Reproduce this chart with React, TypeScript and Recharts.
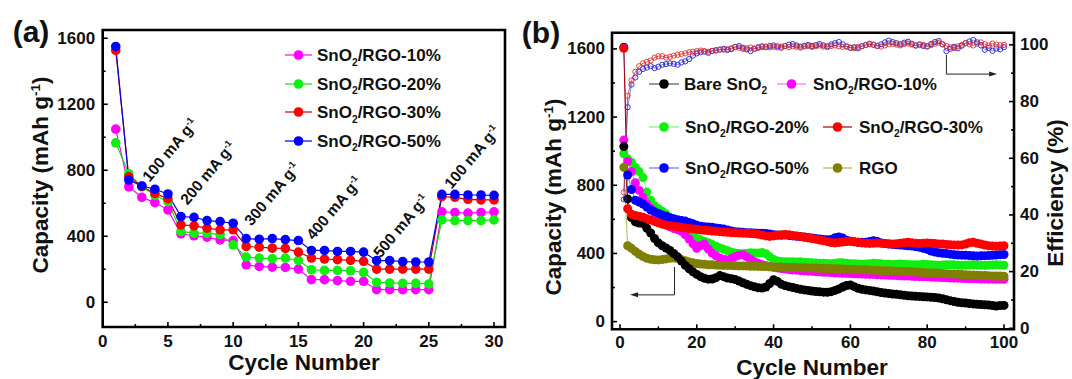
import React from 'react';
import { LineChart, Line, XAxis, YAxis, ReferenceArea, ReferenceLine } from 'recharts';

const FONT = '"Liberation Sans", Arial, Helvetica, sans-serif';

// ---------- panel (a): rate performance ----------
const rateCycles = [1, 2, 3, 4, 5, 6, 7, 8, 9, 10, 11, 12, 13, 14, 15, 16, 17, 18, 19, 20, 21, 22, 23, 24, 25, 26, 27, 28, 29, 30];
const rate10 = [1049, 700, 636, 604, 560, 415, 403, 395, 378, 374, 227, 217, 213, 211, 201, 137, 137, 131, 127, 127, 76, 76, 76, 76, 76, 548, 544, 540, 544, 548];
const rate20 = [966, 779, 700, 648, 610, 429, 419, 419, 410, 348, 274, 268, 264, 268, 254, 197, 193, 193, 191, 181, 121, 117, 115, 115, 111, 499, 495, 495, 495, 499];
const rate30 = [1526, 760, 702, 660, 628, 469, 463, 449, 439, 439, 338, 334, 328, 326, 304, 268, 262, 258, 254, 248, 201, 201, 201, 201, 201, 640, 636, 624, 620, 620];
const rate50 = [1550, 741, 705, 685, 656, 519, 515, 495, 489, 479, 386, 382, 386, 380, 374, 314, 314, 308, 308, 304, 252, 252, 246, 244, 244, 654, 654, 650, 650, 648];
const rateNames = ['SnO2/RGO-10%', 'SnO2/RGO-20%', 'SnO2/RGO-30%', 'SnO2/RGO-50%'];
const rateCurrents = ['100', '200', '300', '400', '500', '100'];
const rateXTicks = [0, 2.5, 5, 7.5, 10, 12.5, 15, 17.5, 20, 22.5, 25, 27.5, 30];
const capTicksA = [0, 200, 400, 600, 800, 1000, 1200, 1400, 1600];

// ---------- panel (b): cycling ----------
const cycles = Array.from({ length: 100 }, (_, i) => i + 1);
const bare = [
  1027, 720, 610, 585, 578, 575, 548, 520, 488, 462, 445, 432, 418, 400, 380, 355, 330, 310, 292, 277,
  264, 254, 249, 250, 258, 270, 264, 256, 252, 247, 238, 228, 219, 211, 204, 199, 197, 203, 224, 246,
  236, 220, 211, 205, 200, 195, 190, 186, 183, 180, 177, 175, 173, 172, 176, 183, 192, 203, 212, 215,
  205, 196, 190, 186, 183, 180, 175, 171, 168, 165, 162, 160, 157, 155, 152, 150, 149, 148, 146, 145,
  143, 141, 138, 134, 128, 123, 118, 114, 111, 109, 106, 104, 102, 100, 99, 97, 94, 92, 94, 95,
];
const rgo10 = [
  1065, 940, 880, 815, 770, 730, 690, 665, 640, 620, 600, 575, 556, 546, 540, 530, 510, 485, 456, 430,
  446, 455, 426, 402, 386, 373, 366, 362, 370, 381, 390, 393, 380, 366, 352, 342, 334, 328, 322, 318,
  315, 311, 309, 306, 303, 302, 299, 298, 296, 295, 293, 292, 290, 289, 288, 286, 285, 284, 283, 282,
  281, 280, 279, 278, 277, 277, 275, 274, 273, 272, 271, 270, 269, 268, 268, 266, 265, 264, 264, 263,
  261, 260, 260, 259, 258, 256, 255, 255, 254, 253, 252, 252, 251, 250, 250, 249, 249, 248, 248, 248,
];
const rgo20 = [
  985, 955, 935, 905, 880, 845, 760, 712, 680, 662, 648, 632, 610, 585, 560, 540, 525, 510, 498, 488,
  480, 472, 463, 452, 442, 432, 424, 416, 408, 402, 400, 398, 401, 404, 403, 402, 405, 398, 380, 365,
  356, 353, 352, 351, 352, 350, 352, 349, 347, 346, 344, 343, 342, 341, 340, 343, 346, 345, 342, 340,
  339, 338, 337, 338, 340, 342, 341, 339, 337, 336, 335, 336, 338, 337, 335, 334, 333, 334, 336, 335,
  333, 332, 331, 332, 333, 334, 333, 331, 330, 331, 332, 333, 332, 331, 330, 331, 332, 333, 332, 331,
];
const rgo30 = [
  1604, 662, 630, 622, 618, 612, 604, 596, 588, 580, 572, 566, 562, 559, 556, 553, 550, 547, 544, 541,
  538, 536, 534, 532, 530, 528, 526, 524, 522, 521, 520, 519, 518, 517, 515, 512, 508, 503, 500, 503,
  507, 510, 511, 509, 506, 503, 499, 495, 491, 488, 484, 479, 474, 469, 464, 462, 464, 467, 470, 471,
  468, 465, 462, 460, 459, 460, 461, 460, 458, 456, 455, 457, 460, 463, 465, 463, 460, 458, 460, 462,
  460, 458, 456, 455, 453, 451, 450, 449, 450, 455, 463, 465, 460, 455, 449, 445, 443, 442, 443, 445,
];
const rgo50 = [
  1610, 860, 775, 712, 702, 690, 672, 655, 645, 635, 625, 618, 610, 604, 598, 594, 590, 582, 574, 565,
  560, 557, 555, 553, 550, 547, 543, 538, 532, 528, 526, 524, 522, 521, 520, 519, 518, 517, 514, 510,
  508, 507, 508, 506, 503, 501, 499, 497, 494, 491, 488, 485, 482, 480, 482, 492, 497, 490, 478, 472,
  468, 466, 465, 466, 470, 475, 470, 462, 458, 455, 453, 451, 449, 447, 445, 443, 440, 436, 430, 424,
  414, 408, 404, 401, 399, 396, 393, 391, 390, 389, 388, 386, 385, 386, 387, 388, 389, 391, 393, 394,
];
const rgoOnly = [
  905, 445, 430, 412, 395, 382, 372, 366, 363, 362, 364, 368, 372, 373, 370, 364, 357, 350, 345, 341,
  338, 336, 334, 333, 332, 331, 330, 330, 329, 328, 327, 327, 326, 325, 325, 324, 323, 323, 322, 321,
  320, 320, 319, 318, 318, 317, 316, 316, 315, 314, 314, 313, 312, 312, 311, 310, 310, 309, 308, 307,
  306, 305, 305, 304, 303, 302, 301, 300, 299, 298, 297, 296, 295, 294, 293, 292, 291, 290, 288, 287,
  286, 285, 284, 283, 281, 280, 279, 278, 276, 275, 274, 273, 272, 271, 270, 269, 268, 267, 267, 266,
];
const eff30 = [
  48, 82, 87.5, 90.5, 92.5, 93.5, 94, 94.5, 95.5, 96, 96, 95.5, 95.8, 96.2, 96.5, 96.8, 97, 97.4, 97.6, 97.8,
  98, 97.8, 97.6, 97.9, 98.2, 98.4, 98.3, 98.5, 98.8, 99.2, 99, 98.6, 98.8, 99.1, 98.7, 98.9, 99.2, 99.4, 99.1, 99.3,
  99.1, 99.4, 99.6, 99.2, 99.5, 99.3, 99, 99.4, 99.6, 99.3, 99.5, 99.8, 99.4, 99.2, 99.6, 99.8, 99.5, 99.3, 99.5, 99.1,
  98.8, 99.3, 99.6, 99.9, 100.2, 100, 99.7, 99.4, 99.8, 100.2, 100.4, 100.1, 99.8, 100.3, 100.5, 100.1, 99.7, 99.9, 100, 99.6,
  99.9, 100.4, 100.8, 100.2, 99.6, 99.2, 98.9, 99.5, 100, 100.6, 100.2, 99.8, 100.4, 100.9, 100.3, 99.8, 100.5, 100.1, 99.9, 100,
];
const eff50 = [
  45.5, 78, 86, 88.5, 90.5, 91.5, 92, 92.5, 91.8, 92.3, 93, 93.2, 93.5, 93.3, 93, 93.8, 94.2, 95, 96.2, 97,
  97.4, 97.6, 97.2, 97.8, 98, 98.3, 98.6, 98.2, 98.5, 99.3, 99.6, 99, 98.4, 97.8, 98.6, 99.2, 99.5, 99.2, 99.6, 99.8,
  99.5, 99, 99.6, 100.1, 100.3, 99.8, 99.4, 99.7, 100, 99.6, 99.9, 100.3, 99.8, 99.5, 100.2, 100.6, 101, 100.2, 99.4, 98.9,
  99.2, 98.8, 99.5, 100, 100.4, 100.1, 99.6, 100.2, 100.9, 101.5, 101, 100.6, 100.2, 100.8, 101.1, 100.4, 99.8, 100.2, 99.6, 99.4,
  100.3, 101, 101.4, 100.2, 97.8, 98.6, 99.3, 98.8, 99.7, 100.6, 101.2, 101.7, 100.9, 99.8, 98.3, 98.9, 97.9, 98.7, 98.4, 99.2,
];
const cycNames = ['Bare SnO2', 'SnO2/RGO-10%', 'SnO2/RGO-20%', 'SnO2/RGO-30%', 'SnO2/RGO-50%', 'RGO'];
const cycXTicks = [0, 10, 20, 30, 40, 50, 60, 70, 80, 90, 100];
const capTicksB = [0, 200, 400, 600, 800, 1000, 1200, 1400, 1600];
const effTicks = [0, 10, 20, 30, 40, 50, 60, 70, 80, 90, 100];

const rateData = rateCycles.map((c, i) => ({ c, r10: rate10[i], r20: rate20[i], r30: rate30[i], r50: rate50[i] }));
const cycData = cycles.map((c, i) => ({
  c, bare: bare[i], r10: rgo10[i], r20: rgo20[i], r30: rgo30[i], r50: rgo50[i], rgo: rgoOnly[i], e30: eff30[i], e50: eff50[i],
}));

const AX = { xMin: 0, xMax: 30.84, yMin: -150, yMax: 1650 };
const BX = { xMin: -2.08, xMax: 102.6, yMin: -45, yMax: 1695, eMin: -0.35, eMax: 104.3 };

// inward ticks, labels outside
const makeTick = (side: 'left' | 'right' | 'bottom', gap: number, major: number) => (props: any) => {
  const { x, y, payload } = props;
  const v = Number(payload.value);
  const isMajor = Math.abs(v / major - Math.round(v / major)) < 1e-6;
  const len = isMajor ? 5 : 3;
  const txt = { fontFamily: FONT, fontWeight: 700, fontSize: 17, fill: '#111' };
  if (side === 'bottom') {
    const ay = y - gap;
    return (
      <g>
        <line x1={x} x2={x} y1={ay} y2={ay - len} stroke="#000" strokeWidth={1.6} />
        {isMajor && <text x={x} y={y} textAnchor="middle" dominantBaseline="central" style={txt}>{v}</text>}
      </g>
    );
  }
  if (side === 'left') {
    const ax = x + gap;
    return (
      <g>
        <line x1={ax} x2={ax + len} y1={y} y2={y} stroke="#000" strokeWidth={1.6} />
        {isMajor && <text x={x} y={y} textAnchor="end" dominantBaseline="central" style={txt}>{v}</text>}
      </g>
    );
  }
  const ax = x - gap;
  return (
    <g>
      <line x1={ax} x2={ax - len} y1={y} y2={y} stroke="#000" strokeWidth={1.6} />
      {isMajor && <text x={x} y={y} textAnchor="start" dominantBaseline="central" style={txt}>{v}</text>}
    </g>
  );
};

const Arrow = (head: boolean) => (props: any) => {
  const { x1, y1, x2, y2 } = props;
  const dx = x2 - x1;
  const dy = y2 - y1;
  const l = Math.hypot(dx, dy) || 1;
  const ux = dx / l;
  const uy = dy / l;
  const hx = x2 - ux * 8;
  const hy = y2 - uy * 8;
  return (
    <g>
      <line x1={x1} y1={y1} x2={head ? hx : x2} y2={head ? hy : y2} stroke="#222" strokeWidth={1} />
      {head && (
        <polygon points={`${x2},${y2} ${hx - uy * 2.5},${hy + ux * 2.5} ${hx + uy * 2.5},${hy - ux * 2.5}`} fill="#222" />
      )}
    </g>
  );
};

const withSub = (name: string) => {
  const parts = name.split('O2');
  if (parts.length === 1) return name;
  return (
    <>
      {parts[0]}O
      <span style={{ fontSize: '0.6em', position: 'relative', top: '0.45em', lineHeight: 0 }}>2</span>
      {parts[1]}
    </>
  );
};

const title: React.CSSProperties = {
  position: 'absolute', fontFamily: FONT, fontWeight: 700, color: '#111', whiteSpace: 'nowrap', lineHeight: 1,
};

const Sup = ({ children }: { children: React.ReactNode }) => (
  <span style={{ fontSize: '0.6em', position: 'relative', top: '-0.6em', lineHeight: 0 }}>{children}</span>
);

function LegendRow({ x1, x2, y, textX, color, lineColor, label }: any) {
  const w = x2 - x1;
  return (
    <>
      <svg style={{ position: 'absolute', left: x1, top: y - 6, overflow: 'visible' }} width={w} height={12}>
        <line x1={0} x2={w} y1={6} y2={6} stroke={lineColor} strokeWidth={1.2} />
        <circle cx={w / 2} cy={6} r={4.8} fill={color} />
      </svg>
      <div style={{ ...title, fontSize: 17, left: textX, top: y, transform: 'translateY(-50%)' }}>{withSub(label)}</div>
    </>
  );
}

const rateColors = ['#ff00ff', '#11ee11', '#ff0000', '#0000ff'];
const rateLineColors = ['#ff00ff', '#11dd11', '#cc0000', '#0000ee'];
const rateKeys = ['r10', 'r20', 'r30', 'r50'];
const currentPos = [[170, 150], [208, 173], [272, 194], [334, 208], [401, 226], [472, 157]];

const cycColors = ['#000000', '#ff00ff', '#11ee11', '#ff0000', '#0000ff', '#808000'];
const cycLineColors = ['#555555', '#ff70ff', '#70ff70', '#aa0000', '#7070ff', '#b5b560'];
const cycKeys = ['bare', 'r10', 'r20', 'r30', 'r50', 'rgo'];
const drawOrder = [2, 1, 5, 0, 4, 3];
const legendB = [
  { i: 0, x1: 649, x2: 679, y: 83.5, tx: 684 },
  { i: 1, x1: 777, x2: 806, y: 83.5, tx: 813 },
  { i: 2, x1: 649, x2: 679, y: 126.5, tx: 685 },
  { i: 3, x1: 823, x2: 852, y: 126.5, tx: 859 },
  { i: 4, x1: 649, x2: 679, y: 167.5, tx: 685 },
  { i: 5, x1: 823, x2: 852, y: 167.5, tx: 859 },
];

export default function App() {
  return (
    <div style={{ position: 'absolute', left: 0, top: 0, width: 1072, height: 379, background: '#fff', overflow: 'hidden' }}>
      {/* panel (a) */}
      <div style={{ position: 'absolute', left: 0, top: 0 }}>
        <LineChart width={540} height={379} data={rateData} margin={{ top: 30, right: 35, bottom: 22, left: 42.7 }}>
          <XAxis dataKey="c" type="number" domain={[AX.xMin, AX.xMax]} allowDataOverflow ticks={rateXTicks} interval={0}
            axisLine={false} tickLine={false} tickSize={0} tickMargin={14.5} height={30} tick={makeTick('bottom', 14.5, 5)} />
          <YAxis type="number" domain={[AX.yMin, AX.yMax]} allowDataOverflow ticks={capTicksA} interval={0}
            axisLine={false} tickLine={false} tickSize={0} tickMargin={7.5} width={60} tick={makeTick('left', 7.5, 400)} />
          <ReferenceArea x1={AX.xMin} x2={AX.xMax} y1={AX.yMin} y2={AX.yMax} fill="none" stroke="#000" strokeWidth={2.6} ifOverflow="visible" />
          {rateKeys.map((k, i) => (
            <Line key={k} dataKey={k} type="linear" stroke={rateLineColors[i]} strokeWidth={1.2}
              dot={{ r: 4.8, fill: rateColors[i], stroke: rateColors[i], strokeWidth: 0 }} isAnimationActive={false} />
          ))}
        </LineChart>
      </div>

      <div style={{ ...title, fontSize: 30, left: 31, top: 32, transform: 'translate(-50%,-50%)' }}>(a)</div>
      <div style={{ ...title, fontSize: 22.5, left: 304, top: 363, transform: 'translate(-50%,-50%)' }}>Cycle Number</div>
      <div style={{ ...title, fontSize: 22.5, left: 41, top: 175, transform: 'translate(-50%,-50%) rotate(-90deg)' }}>
        Capacity (mAh g<Sup>-1</Sup>)
      </div>
      {rateNames.map((n, i) => (
        <LegendRow key={n} x1={285} x2={312} y={55 + i * 28.5} textX={317} color={rateColors[i]} lineColor={rateLineColors[i]} label={n} />
      ))}
      {rateCurrents.map((c, i) => (
        <div key={i} style={{ ...title, fontSize: 15.5, left: currentPos[i][0], top: currentPos[i][1], transform: 'translate(-50%,-50%) rotate(-50deg)' }}>
          {c} mA g<Sup>-1</Sup>
        </div>
      ))}

      {/* panel (b) */}
      <div style={{ position: 'absolute', left: 530, top: 0 }}>
        <LineChart width={542} height={379} data={cycData} margin={{ top: 32.7, right: 8, bottom: 19.7, left: 32 }}>
          <XAxis dataKey="c" type="number" domain={[BX.xMin, BX.xMax]} allowDataOverflow ticks={cycXTicks} interval={0}
            axisLine={false} tickLine={false} tickSize={0} tickMargin={13} height={30} tick={makeTick('bottom', 13, 20)} />
          <YAxis yAxisId="left" type="number" domain={[BX.yMin, BX.yMax]} allowDataOverflow ticks={capTicksB} interval={0}
            axisLine={false} tickLine={false} tickSize={0} tickMargin={7} width={50} tick={makeTick('left', 7, 400)} />
          <YAxis yAxisId="right" orientation="right" type="number" domain={[BX.eMin, BX.eMax]} allowDataOverflow ticks={effTicks} interval={0}
            axisLine={false} tickLine={false} tickSize={0} tickMargin={6} width={50} tick={makeTick('right', 6, 20)} />
          <ReferenceArea yAxisId="left" x1={BX.xMin} x2={BX.xMax} y1={BX.yMin} y2={BX.yMax} fill="none" stroke="#000" strokeWidth={2.6} ifOverflow="visible" />
          {drawOrder.map((i) => (
            <Line key={cycKeys[i]} yAxisId="left" dataKey={cycKeys[i]} type="linear" stroke={cycLineColors[i]} strokeWidth={1}
              dot={{ r: 4.5, fill: cycColors[i], stroke: cycColors[i], strokeWidth: 0 }} isAnimationActive={false} />
          ))}
          <Line yAxisId="right" dataKey="e50" type="linear" stroke="#5050e0" strokeWidth={0.7}
            dot={{ r: 2.6, fill: 'none', stroke: '#2020d0', strokeWidth: 0.9 }} isAnimationActive={false} />
          <Line yAxisId="right" dataKey="e30" type="linear" stroke="#c02020" strokeWidth={0.7}
            dot={{ r: 2.6, fill: 'none', stroke: '#e03030', strokeWidth: 0.9 }} isAnimationActive={false} />
          <ReferenceLine yAxisId="right" segment={[{ x: 85, y: 96.5 }, { x: 85, y: 89.7 }]} ifOverflow="visible" shape={Arrow(false)} />
          <ReferenceLine yAxisId="right" segment={[{ x: 85, y: 89.7 }, { x: 98.2, y: 89.7 }]} ifOverflow="visible" shape={Arrow(true)} />
          <ReferenceLine yAxisId="left" segment={[{ x: 14.2, y: 320 }, { x: 14.2, y: 157 }]} ifOverflow="visible" shape={Arrow(false)} />
          <ReferenceLine yAxisId="left" segment={[{ x: 14.2, y: 157 }, { x: 2.6, y: 157 }]} ifOverflow="visible" shape={Arrow(true)} />
        </LineChart>
      </div>

      <div style={{ ...title, fontSize: 30, left: 541, top: 33, transform: 'translate(-50%,-50%)' }}>(b)</div>
      <div style={{ ...title, fontSize: 22.5, left: 812, top: 368, transform: 'translate(-50%,-50%)' }}>Cycle Number</div>
      <div style={{ ...title, fontSize: 22.5, left: 554, top: 197, transform: 'translate(-50%,-50%) rotate(-90deg)' }}>
        Capacity (mAh g<Sup>-1</Sup>)
      </div>
      <div style={{ ...title, fontSize: 22.5, left: 1056, top: 192.5, transform: 'translate(-50%,-50%) rotate(-90deg)' }}>
        Efficiency (%)
      </div>
      {legendB.map((L) => (
        <LegendRow key={L.i} x1={L.x1} x2={L.x2} y={L.y} textX={L.tx} color={cycColors[L.i]} lineColor={cycLineColors[L.i]} label={cycNames[L.i]} />
      ))}
    </div>
  );
}
